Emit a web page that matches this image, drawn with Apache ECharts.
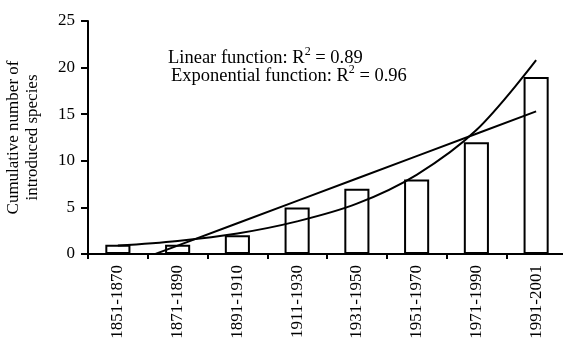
<!DOCTYPE html>
<html>
<head>
<meta charset="utf-8">
<script src="https://cdn.jsdelivr.net/npm/echarts@6/dist/echarts.min.js"></script>
<style>html,body{margin:0;padding:0;background:#fff;}#c{width:563px;height:341px;}</style>
</head>
<body>
<div id="c"></div>
<script>
var categories = ['1851-1870','1871-1890','1891-1910','1911-1930','1931-1950','1951-1970','1971-1990','1991-2001'];
var speciesCounts = [1, 1, 2, 5, 7, 8, 12, 19];
var linearTrend = [-1.5, 0.9, 3.3, 5.7, 8.1, 10.5, 12.9, 15.3];
var exponentialTrend = [0.9, 1.4, 2.2, 3.5, 5.4, 8.5, 13.3, 20.8];
var yTicks = [0, 5, 10, 15, 20, 25];

var FONT = '"Liberation Serif", "Times New Roman", serif';
var chart = echarts.init(document.getElementById('c'), null, {renderer: 'canvas'});
chart.setOption({
  animation: false,
  backgroundColor: '#fff',
  grid: {left: 88, right: -3, top: 21, bottom: 87, containLabel: false, outerBoundsMode: 'none'},
  xAxis: {
    type: 'category',
    data: categories,
    boundaryGap: true,
    axisLine: {lineStyle: {color: '#000', width: 2}},
    axisTick: {show: true, alignWithLabel: false, length: 5, lineStyle: {color: '#000', width: 2}},
    axisLabel: {rotate: 90, margin: 11, color: '#000', fontFamily: FONT, fontSize: 17, interval: 0}
  },
  yAxis: {
    type: 'value',
    min: yTicks[0], max: yTicks[yTicks.length - 1], interval: 5,
    name: 'Cumulative number of\nintroduced species',
    nameLocation: 'middle',
    nameGap: 46,
    nameTextStyle: {color: '#000', fontFamily: FONT, fontSize: 17, lineHeight: 19, align: 'center'},
    axisLine: {show: true, lineStyle: {color: '#000', width: 2}},
    axisTick: {show: true, length: 7, lineStyle: {color: '#000', width: 2}},
    splitLine: {show: false},
    axisLabel: {margin: 13, color: '#000', fontFamily: FONT, fontSize: 17}
  },
  series: [
    {
      type: 'bar',
      data: speciesCounts,
      barWidth: '42%',
      itemStyle: {color: '#fff', borderColor: '#000', borderWidth: 2},
      z: 2
    },
    {
      type: 'line',
      data: linearTrend,
      symbol: 'none',
      clip: true,
      lineStyle: {color: '#000', width: 2},
      z: 3
    },
    {
      type: 'line',
      data: exponentialTrend,
      symbol: 'none',
      smooth: 0.35,
      clip: true,
      lineStyle: {color: '#000', width: 2},
      z: 3
    }
  ],
  graphic: [
    {
      type: 'text', left: 168, top: 46,
      style: {
        text: '{a|Linear function: R}{s|2}{a| = 0.89}',
        rich: {
          a: {fontFamily: FONT, fontSize: 18.5, fill: '#000', lineHeight: 24},
          s: {fontFamily: FONT, fontSize: 12, fill: '#000', padding: [0, 0, 12, 0]}
        }
      }
    },
    {
      type: 'text', left: 171, top: 64,
      style: {
        text: '{a|Exponential function: R}{s|2}{a| = 0.96}',
        rich: {
          a: {fontFamily: FONT, fontSize: 18.5, fill: '#000', lineHeight: 24},
          s: {fontFamily: FONT, fontSize: 12, fill: '#000', padding: [0, 0, 12, 0]}
        }
      }
    }
  ]
});
</script>
</body>
</html>
